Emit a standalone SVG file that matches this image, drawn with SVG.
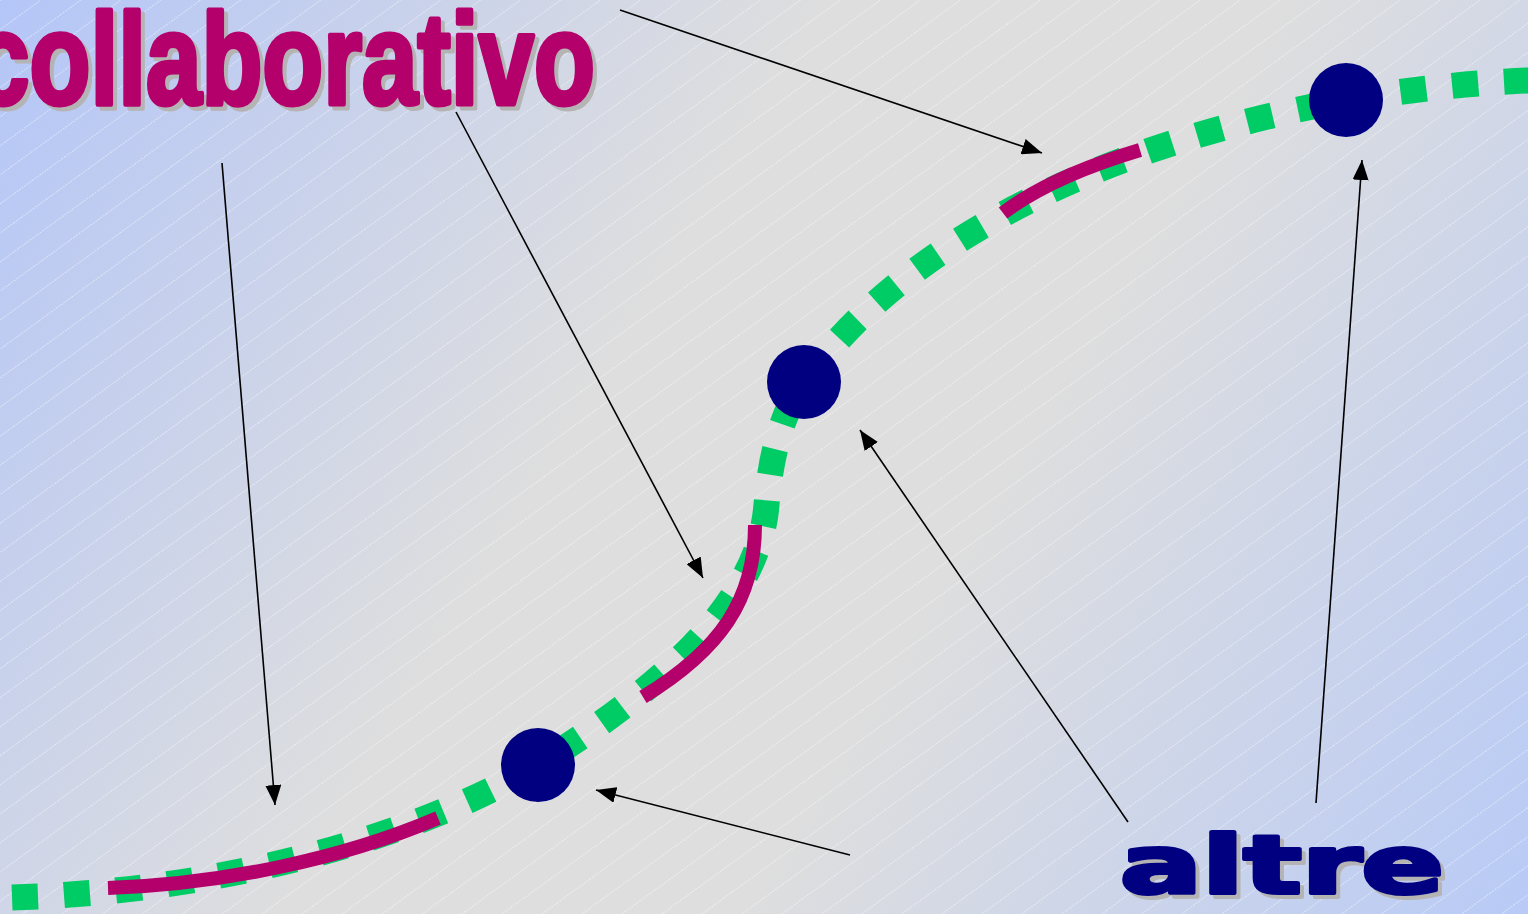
<svg xmlns="http://www.w3.org/2000/svg" width="1528" height="914" viewBox="0 0 1528 914">
<style>
.green{fill:none;stroke:#00CC66;stroke-width:26;stroke-dasharray:26 26}
.mag{fill:none;stroke:#B3006B;stroke-width:14}
.arr{fill:none;stroke:#000;stroke-width:1.6;marker-end:url(#ah)}
.node{fill:#000080}
.title{font-family:"Liberation Sans Narrow","Liberation Sans",sans-serif;font-weight:bold;font-size:130px;stroke-width:5;stroke-linejoin:round}
.altre{font-family:"DejaVu Sans","Liberation Sans",sans-serif;font-weight:bold;font-size:80px;stroke-width:4;stroke-linejoin:round}
</style>
<defs>
<linearGradient id="bg" gradientUnits="userSpaceOnUse" x1="0" y1="0" x2="1528" y2="914">
<stop offset="0" stop-color="#B4C6F8"/>
<stop offset="0.4" stop-color="#DEDEDE"/>
<stop offset="0.62" stop-color="#DEDEDE"/>
<stop offset="1" stop-color="#B8CAF6"/>
</linearGradient>
<pattern id="stripes" patternUnits="userSpaceOnUse" width="40" height="23.5" patternTransform="rotate(-36)">
<line x1="0" y1="0.5" x2="40" y2="0.5" stroke="#FFFFFF" stroke-opacity="0.45" stroke-width="1" stroke-dasharray="2 1"/>
</pattern>
<marker id="ah" viewBox="0 0 20 16" refX="20" refY="8" markerWidth="20" markerHeight="16" markerUnits="userSpaceOnUse" orient="auto">
<path d="M0,0 L20,8 L0,16 Z" fill="#000"/>
</marker>
</defs>
<rect width="1528" height="914" fill="url(#bg)"/>
<rect width="1528" height="914" fill="url(#stripes)"/>

<g id="connectors">
<path class="green" d="M-10,898 C200,895 400,845 538,765 C650,695 755,610 766,510 C770,460 780,415 804,382 C870,290 1020,160 1346,100 C1420,88 1480,82 1540,80" stroke-dashoffset="-22"/>
<path class="mag" d="M108,888 C220,884 340,860 438,818"/>
<path class="mag" d="M755,525 C755,600 720,650 643,697"/>
<path class="mag" d="M1003,213 C1040,185 1090,165 1140,150"/>
<path class="arr" d="M620,10 L1042,153"/>
<path class="arr" d="M456,112 L703,578"/>
<path class="arr" d="M222,163 L275,805"/>
<path class="arr" d="M850,855 L596,790"/>
<path class="arr" d="M1128,822 L860,430"/>
<path class="arr" d="M1316,803 L1362,160"/>
</g>

<g id="node1"><circle class="node" cx="538" cy="765" r="37"/></g>
<g id="node2"><circle class="node" cx="804" cy="382" r="37"/></g>
<g id="node3"><circle class="node" cx="1346" cy="100" r="37"/></g>

<g id="title">
<text class="title" x="-22" y="108" textLength="621" lengthAdjust="spacingAndGlyphs" fill="#B4B4B4" stroke="#B4B4B4">collaborativo</text>
<text class="title" x="-26" y="104" textLength="621" lengthAdjust="spacingAndGlyphs" fill="#B3006B" stroke="#B3006B">collaborativo</text>
</g>
<g id="altre">
<text class="altre" x="1124" y="897" textLength="324" lengthAdjust="spacingAndGlyphs" fill="#B4B4B4" stroke="#B4B4B4">altre</text>
<text class="altre" x="1120" y="893" textLength="324" lengthAdjust="spacingAndGlyphs" fill="#000080" stroke="#000080">altre</text>
</g>
</svg>
